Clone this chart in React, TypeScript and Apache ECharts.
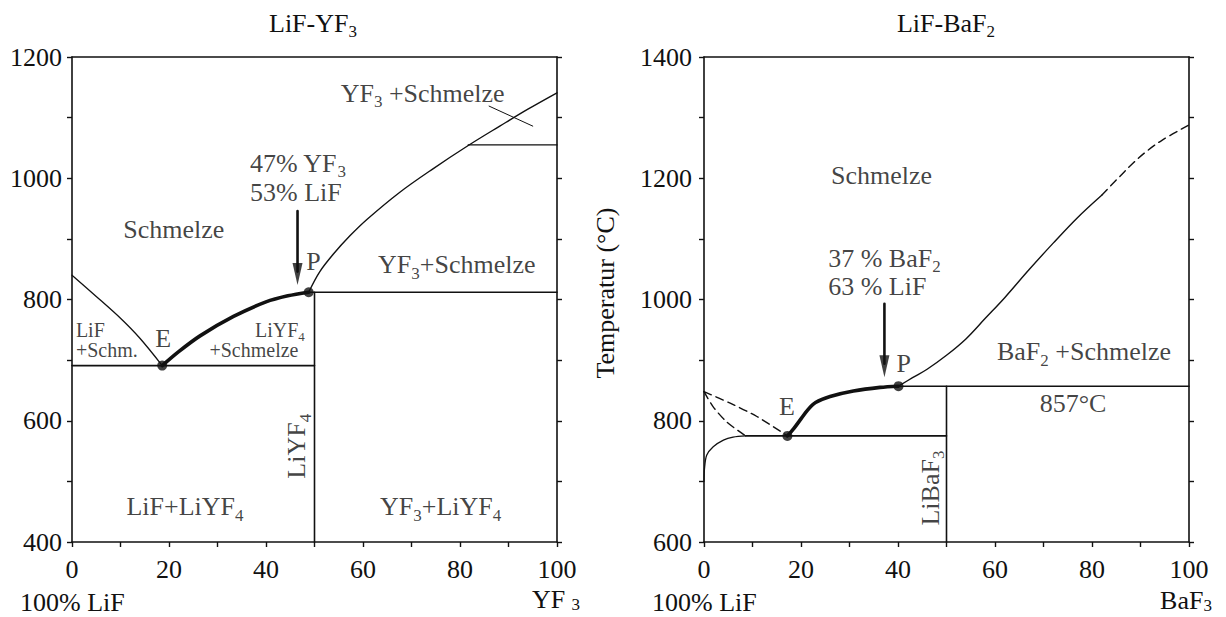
import React, { useEffect, useRef } from 'react';
import * as echarts from 'echarts';

const FONT = "'Liberation Serif', 'Times New Roman', Times, serif";
const INK = '#111111';

// ---------- LiF–YF3 (left diagram) ----------
const yfLiquidusLiF = [[0, 840], [5, 805], [10, 769], [14, 736], [18.6, 691]];
const yfLiquidusLiYF4 = [[18.6, 691], [22, 714], [26.4, 740], [33.3, 772], [40, 796], [44.5, 806], [48.8, 812]];
const yfLiquidusYF3 = [[48.8, 812], [51.1, 846], [53.9, 875], [57.3, 905], [60.8, 932], [67.6, 977], [74.5, 1016], [81.7, 1054], [88.2, 1086], [94, 1114], [100, 1141]];
const yfEutecticLine = [[0, 691], [50, 691]];
const yfPeritecticLine = [[48.8, 812], [100, 812]];
const yfLiYF4Line = [[50, 812], [50, 400]];
const yfTransitionLine = [[81.7, 1055], [100, 1055]];
const yfLeaderLine = [[86, 1119], [95, 1086]];
const yfPoints = [[18.6, 691], [48.8, 812]];
const yfArrowShaft = [[46.5, 946], [46.5, 846]];
const yfArrowHead = [[46.5, 842]];

const yfLabels = [
  { t: '{n|YF}{s|3}{n| +Schmelze}', x: 72.3, y: 1140, a: 'center' },
  { t: '{n|47% YF}{s|3}', x: 36.7, y: 1025, a: 'left' },
  { t: '{n|53% LiF}', x: 36.7, y: 976, a: 'left' },
  { t: '{n|P}', x: 49.8, y: 862, a: 'center' },
  { t: '{n|Schmelze}', x: 21, y: 915, a: 'center' },
  { t: '{n|YF}{s|3}{n|+Schmelze}', x: 63.1, y: 857, a: 'left' },
  { t: '{m|LiF}', x: 0.8, y: 750, a: 'left' },
  { t: '{m|+Schm.}', x: 0.8, y: 717, a: 'left' },
  { t: '{n|E}', x: 18.8, y: 736, a: 'center' },
  { t: '{m|LiYF}{ms|4}', x: 48, y: 750, a: 'right' },
  { t: '{m|+Schmelze}', x: 46.7, y: 716, a: 'right' },
  { t: '{n|LiYF}{s|4}', x: 46.3, y: 558, a: 'center', r: 90 },
  { t: '{n|LiF+LiYF}{s|4}', x: 23.3, y: 458, a: 'center' },
  { t: '{n|YF}{s|3}{n|+LiYF}{s|4}', x: 76, y: 458, a: 'center' },
];

// ---------- LiF–BaF2 (right diagram) ----------
const baSolidusLeft = [[0, 700], [0.1, 721], [0.55, 743], [1.9, 757], [4, 768], [6, 773], [8.6, 775]];
const baDashUpper = [[0, 848], [5.4, 829], [10.9, 807], [17.2, 775]];
const baDashLower = [[0, 848], [1.9, 823], [4.7, 798], [8.6, 775]];
const baLiquidusLiBaF3 = [[17.2, 775], [18.5, 787], [19.8, 801], [21.4, 818], [23, 830], [26, 840], [30.8, 849], [36.3, 855], [40.1, 857]];
const baLiquidusBaF2 = [[40.1, 857], [43, 871], [46, 885], [50, 908], [54, 935], [58, 969], [62, 1003], [67, 1049], [72, 1093], [77, 1135], [82, 1172]];
const baLiquidusBaF2Dashed = [[82, 1172], [85, 1197], [88.6, 1226], [91.5, 1246], [94.5, 1263], [100, 1288]];
const baEutecticLine = [[8.6, 775], [50, 775]];
const baPeritecticLine = [[40.1, 857], [100, 857]];
const baLiBaF3Line = [[50, 857], [50, 600]];
const baPoints = [[17.2, 775], [40.1, 857]];
const baArrowShaft = [[37.2, 993], [37.2, 894]];
const baArrowHead = [[37.2, 890]];

const baLabels = [
  { t: '{n|Schmelze}', x: 36.6, y: 1205, a: 'center' },
  { t: '{n|37 % BaF}{s|2}', x: 25.6, y: 1068, a: 'left' },
  { t: '{n|63 % LiF}', x: 25.6, y: 1021, a: 'left' },
  { t: '{n|P}', x: 41.2, y: 895, a: 'center' },
  { t: '{n|E}', x: 17.1, y: 823, a: 'center' },
  { t: '{n|BaF}{s|2}{n| +Schmelze}', x: 60.4, y: 914, a: 'left' },
  { t: '{n|857°C}', x: 76.1, y: 829, a: 'center' },
  { t: '{n|LiBaF}{s|3}', x: 46.6, y: 689, a: 'center', r: 90 },
];

// ---------- styling helpers ----------
const RICH: any = {
  n: { fontSize: 26, lineHeight: 26, fontFamily: FONT, color: INK, fill: INK },
  s: { fontSize: 17, lineHeight: 26, padding: [13, 0, 0, 0], verticalAlign: 'top', fontFamily: FONT, color: INK, fill: INK },
  sl: { fontSize: 17, lineHeight: 26, padding: [10, 0, 0, 0], verticalAlign: 'top', fontFamily: FONT, color: INK, fill: INK },
  m: { fontSize: 20, lineHeight: 20, fontFamily: FONT, color: INK, fill: INK },
  ms: { fontSize: 13, lineHeight: 20, padding: [10, 0, 0, 0], verticalAlign: 'top', fontFamily: FONT, color: INK, fill: INK },
};

const tickFont = { fontFamily: FONT, fontSize: 26, color: INK };
const axisLine = { show: true, onZero: false, lineStyle: { color: INK, width: 1.6 } };

function bottomX(grid: number) {
  return {
    type: 'value', gridIndex: grid, min: 0, max: 100, interval: 10, position: 'bottom',
    axisLine, axisTick: { show: true, inside: false, length: 5, lineStyle: { color: INK, width: 1.4 } },
    axisLabel: { ...tickFont, margin: 14, formatter: (v: number) => (v % 20 === 0 ? String(v) : '') },
    splitLine: { show: false },
  };
}
function topX(grid: number) {
  return {
    type: 'value', gridIndex: grid, min: 0, max: 100, interval: 10, position: 'top',
    axisLine, axisTick: { show: false }, axisLabel: { show: false }, splitLine: { show: false },
  };
}
function leftY(grid: number, min: number, max: number, margin: number) {
  return {
    type: 'value', gridIndex: grid, min, max, interval: 100, position: 'left',
    axisLine, axisTick: { show: true, inside: false, length: 5, lineStyle: { color: INK, width: 1.4 } },
    axisLabel: { ...tickFont, margin, formatter: (v: number) => (v % 200 === 0 ? String(v) : '') },
    splitLine: { show: false },
  };
}
function rightY(grid: number, min: number, max: number) {
  return {
    type: 'value', gridIndex: grid, min, max, interval: 100, position: 'right',
    axisLine, axisTick: { show: true, inside: false, length: 5, lineStyle: { color: INK, width: 1.4 } },
    axisLabel: { show: false }, splitLine: { show: false },
  };
}

function lineS(data: number[][], xi: number, yi: number, width = 1.3, smooth: any = false, type: any = 'solid') {
  return {
    type: 'line', xAxisIndex: xi, yAxisIndex: yi, data, showSymbol: false, symbol: 'none', silent: true,
    smooth, lineStyle: { color: INK, width, type, cap: 'round', join: 'round' }, z: 3,
  };
}
function dotsS(data: number[][], xi: number, yi: number) {
  return {
    type: 'scatter', xAxisIndex: xi, yAxisIndex: yi, data, symbol: 'circle', symbolSize: 10, silent: true,
    itemStyle: { color: INK }, z: 5,
  };
}
function headS(data: number[][], xi: number, yi: number) {
  return {
    type: 'scatter', xAxisIndex: xi, yAxisIndex: yi, data, symbol: 'triangle', symbolSize: [10, 22], symbolRotate: 180,
    silent: true, itemStyle: { color: INK }, z: 5,
  };
}
function labelS(labels: any[], xi: number, yi: number) {
  return {
    type: 'scatter', xAxisIndex: xi, yAxisIndex: yi, silent: true, symbolSize: 1, clip: false,
    itemStyle: { color: 'rgba(0,0,0,0)' }, z: 6,
    label: { show: true, position: 'inside', color: INK, fontFamily: FONT, rich: RICH },
    data: labels.map((l) => ({
      value: [l.x, l.y],
      label: { formatter: l.t, align: l.a, verticalAlign: 'middle', rotate: l.r || 0 },
    })),
  };
}

export default function App() {
  const ref = useRef<HTMLDivElement>(null);
  useEffect(() => {
    if (!ref.current) return;
    const chart = echarts.init(ref.current, undefined, { renderer: 'svg' });
    const option: any = {
      animation: false,
      backgroundColor: '#ffffff',
      grid: [
        { left: 72, top: 57, width: 485, height: 485 },
        { left: 704, top: 57, width: 485, height: 485 },
      ],
      xAxis: [bottomX(0), topX(0), bottomX(1), topX(1)],
      yAxis: [leftY(0, 400, 1200, 10), rightY(0, 400, 1200), leftY(1, 600, 1400, 12), rightY(1, 600, 1400)],
      series: [
        // left diagram
        lineS(yfLiquidusLiF, 0, 0, 1.3, 0.3),
        lineS(yfLiquidusLiYF4, 0, 0, 3.6, 0.3),
        lineS(yfLiquidusYF3, 0, 0, 1.4, 0.35),
        lineS(yfEutecticLine, 0, 0, 1.6),
        lineS(yfPeritecticLine, 0, 0, 1.6),
        lineS(yfLiYF4Line, 0, 0, 1.6),
        lineS(yfTransitionLine, 0, 0, 1.4),
        lineS(yfLeaderLine, 0, 0, 1),
        lineS(yfArrowShaft, 0, 0, 2.6),
        headS(yfArrowHead, 0, 0),
        dotsS(yfPoints, 0, 0),
        labelS(yfLabels, 0, 0),
        // right diagram
        lineS(baSolidusLeft, 2, 2, 1.3, 0.3),
        lineS(baDashUpper, 2, 2, 1.4, 0.3, [8, 5]),
        lineS(baDashLower, 2, 2, 1.4, 0.3, [8, 5]),
        lineS(baLiquidusLiBaF3, 2, 2, 3.6, 0.3),
        lineS(baLiquidusBaF2, 2, 2, 1.4, 0.35),
        lineS(baLiquidusBaF2Dashed, 2, 2, 1.4, 0.35, [8, 5]),
        lineS(baEutecticLine, 2, 2, 1.6),
        lineS(baPeritecticLine, 2, 2, 1.6),
        lineS(baLiBaF3Line, 2, 2, 1.6),
        lineS(baArrowShaft, 2, 2, 2.6),
        headS(baArrowHead, 2, 2),
        dotsS(baPoints, 2, 2),
        labelS(baLabels, 2, 2),
      ],
      graphic: [
        { type: 'text', x: 313, y: 23, silent: true, style: { text: '{n|LiF-YF}{s|3}', rich: RICH, align: 'center', verticalAlign: 'middle' } },
        { type: 'text', x: 946, y: 23, silent: true, style: { text: '{n|LiF-BaF}{s|2}', rich: RICH, align: 'center', verticalAlign: 'middle' } },
        { type: 'text', x: 20, y: 602, silent: true, style: { text: '100% LiF', fontSize: 26, fontFamily: FONT, fill: INK, align: 'left', verticalAlign: 'middle' } },
        { type: 'text', x: 652, y: 602, silent: true, style: { text: '100% LiF', fontSize: 26, fontFamily: FONT, fill: INK, align: 'left', verticalAlign: 'middle' } },
        { type: 'text', x: 556, y: 599, silent: true, style: { text: '{n|YF }{sl|3}', rich: RICH, align: 'center', verticalAlign: 'middle' } },
        { type: 'text', x: 1186, y: 600, silent: true, style: { text: '{n|BaF}{sl|3}', rich: RICH, align: 'center', verticalAlign: 'middle' } },
        { type: 'text', x: 605, y: 293, rotation: Math.PI / 2, silent: true, style: { text: 'Temperatur (°C)', fontSize: 26, fontFamily: FONT, fill: INK, align: 'center', verticalAlign: 'middle' } },
      ],
    };
    chart.setOption(option);
    return () => chart.dispose();
  }, []);
  return (
    <div
      ref={ref}
      style={{ position: 'fixed', left: 0, top: 0, width: 1226, height: 617, background: '#fff' }}
    />
  );
}
